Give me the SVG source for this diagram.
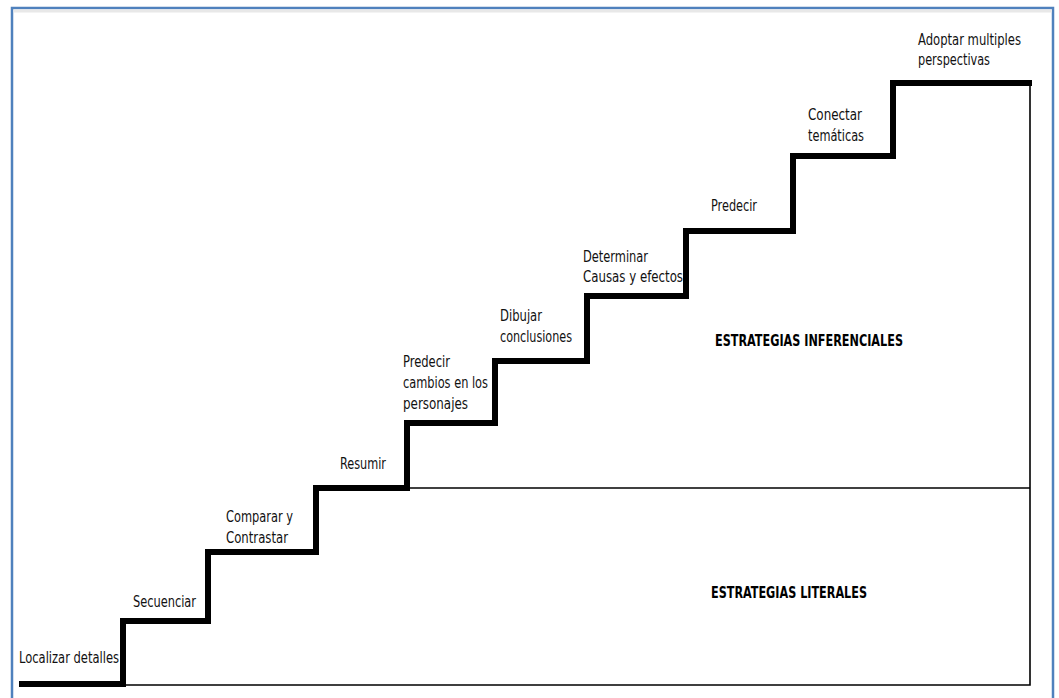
<svg xmlns="http://www.w3.org/2000/svg" width="1059" height="698" viewBox="0 0 1059 698">
<style>
.lbl{font-family:"DejaVu Sans Condensed","Liberation Sans Narrow","Liberation Sans",sans-serif;font-size:16px;fill:#111}
.hd{font-family:"DejaVu Sans Condensed","Liberation Sans Narrow","Liberation Sans",sans-serif;font-size:16px;font-weight:bold;fill:#000}
.stair{fill:none;stroke:#000;stroke-width:6;stroke-linejoin:miter;stroke-linecap:butt}
.thin{fill:none;stroke:#000;stroke-width:1.6}
</style>
<rect width="1059" height="698" fill="#fff"/>
<rect id="frame" x="12" y="8" width="1041" height="710" fill="none" stroke="#4f81bd" stroke-width="2.5"/>
<line x1="13.5" y1="11" x2="1052" y2="11" stroke="#e8e8e8" stroke-width="3"/>
<g id="connectors">
<path class="thin" d="M123 685 H1030 V83"/>
<line class="thin" x1="408" y1="488" x2="1030" y2="488"/>
<path class="stair" d="M19 684 H123 V621 H208 V552 H316 V488 H407 V423 H495 V361 H587 V296 H686 V231 H793 V156 H893 V83 H1032"/>
</g>
<g id="n1"><text class="lbl" x="19" y="663" textLength="100" lengthAdjust="spacingAndGlyphs">Localizar detalles</text></g>
<g id="n2"><text class="lbl" x="133" y="607" textLength="63" lengthAdjust="spacingAndGlyphs">Secuenciar</text></g>
<g id="n3"><text class="lbl" x="226" y="522" textLength="67" lengthAdjust="spacingAndGlyphs">Comparar y</text><text class="lbl" x="226" y="543" textLength="62" lengthAdjust="spacingAndGlyphs">Contrastar</text></g>
<g id="n4"><text class="lbl" x="340" y="469" textLength="46" lengthAdjust="spacingAndGlyphs">Resumir</text></g>
<g id="n5"><text class="lbl" x="403" y="367" textLength="47" lengthAdjust="spacingAndGlyphs">Predecir</text><text class="lbl" x="403" y="388" textLength="85" lengthAdjust="spacingAndGlyphs">cambios en los</text><text class="lbl" x="403" y="409" textLength="65" lengthAdjust="spacingAndGlyphs">personajes</text></g>
<g id="n6"><text class="lbl" x="500" y="321" textLength="42" lengthAdjust="spacingAndGlyphs">Dibujar</text><text class="lbl" x="500" y="342" textLength="72" lengthAdjust="spacingAndGlyphs">conclusiones</text></g>
<g id="n7"><text class="lbl" x="583" y="262" textLength="65" lengthAdjust="spacingAndGlyphs">Determinar</text><text class="lbl" x="583" y="282" textLength="100" lengthAdjust="spacingAndGlyphs">Causas y efectos</text></g>
<g id="n8"><text class="lbl" x="711" y="211" textLength="46" lengthAdjust="spacingAndGlyphs">Predecir</text></g>
<g id="n9"><text class="lbl" x="808" y="120" textLength="54" lengthAdjust="spacingAndGlyphs">Conectar</text><text class="lbl" x="808" y="141" textLength="56" lengthAdjust="spacingAndGlyphs">temáticas</text></g>
<g id="n10"><text class="lbl" x="918" y="45" textLength="103" lengthAdjust="spacingAndGlyphs">Adoptar multiples</text><text class="lbl" x="918" y="65" textLength="72" lengthAdjust="spacingAndGlyphs">perspectivas</text></g>
<g id="inferenciales"><text class="hd" x="715" y="346" textLength="188" lengthAdjust="spacingAndGlyphs">ESTRATEGIAS INFERENCIALES</text></g>
<g id="literales"><text class="hd" x="711" y="598" textLength="156" lengthAdjust="spacingAndGlyphs">ESTRATEGIAS LITERALES</text></g>
</svg>
